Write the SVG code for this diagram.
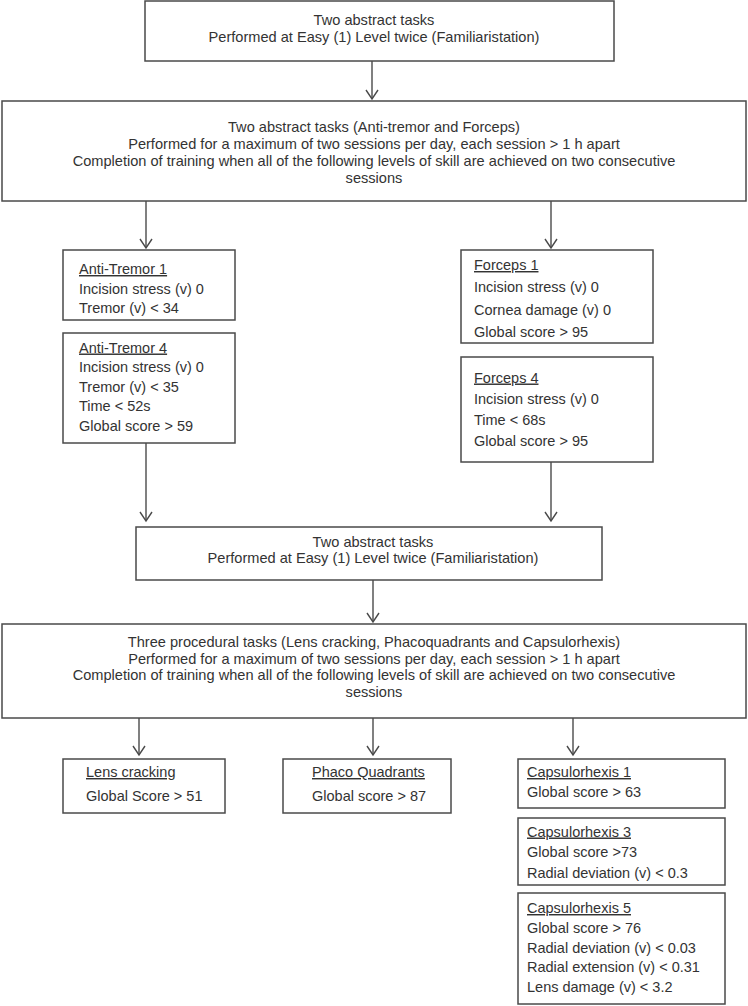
<svg xmlns="http://www.w3.org/2000/svg" width="748" height="1006" viewBox="0 0 748 1006">
<style>
.box{fill:#fff;stroke:#4a4a4a;stroke-width:1.5}
.t{font-family:"Liberation Sans",Arial,sans-serif;font-size:14.5px;fill:#333}
.c{text-anchor:middle;font-size:14.6px}
.u{text-decoration:underline}
.ln{fill:none;stroke:#4a4a4a;stroke-width:1.4}
</style>
<defs>
<marker id="ah" markerUnits="userSpaceOnUse" viewBox="-11 -8 13 16" refX="0" refY="0" markerWidth="13" markerHeight="16" orient="auto" overflow="visible">
<path d="M-9,-6 L0,0 L-9,6" fill="none" stroke="#4a4a4a" stroke-width="1.4"/>
</marker>
</defs>
<rect width="748" height="1006" fill="#fff"/>
<g id="connectors">
<line class="ln" x1="372" y1="61" x2="372" y2="99" marker-end="url(#ah)"/>
<line class="ln" x1="146" y1="201" x2="146" y2="248" marker-end="url(#ah)"/>
<line class="ln" x1="551" y1="201" x2="551" y2="248" marker-end="url(#ah)"/>
<line class="ln" x1="146" y1="443" x2="146" y2="521" marker-end="url(#ah)"/>
<line class="ln" x1="551" y1="462" x2="551" y2="521" marker-end="url(#ah)"/>
<line class="ln" x1="373" y1="580" x2="373" y2="622" marker-end="url(#ah)"/>
<line class="ln" x1="139" y1="718" x2="139" y2="755" marker-end="url(#ah)"/>
<line class="ln" x1="373" y1="718" x2="373" y2="755" marker-end="url(#ah)"/>
<line class="ln" x1="573" y1="718" x2="573" y2="755" marker-end="url(#ah)"/>
</g>
<g id="n-familiar1">
<rect class="box" x="145" y="1" width="469" height="60"/>
<text class="t c" x="374" y="25">Two abstract tasks</text>
<text class="t c" x="374" y="42">Performed at Easy (1) Level twice (Familiaristation)</text>
</g>
<g id="n-abstract">
<rect class="box" x="2" y="101" width="744" height="100"/>
<text class="t c" x="374" y="132">Two abstract tasks (Anti-tremor and Forceps)</text>
<text class="t c" x="374" y="149">Performed for a maximum of two sessions per day, each session &gt; 1 h apart</text>
<text class="t c" x="374" y="166">Completion of training when all of the following levels of skill are achieved on two consecutive</text>
<text class="t c" x="374" y="183">sessions</text>
</g>
<g id="n-antitremor1">
<rect class="box" x="63" y="250" width="172" height="70"/>
<text class="t u" x="79" y="274">Anti-Tremor 1</text>
<text class="t" x="79" y="293.5">Incision stress (v) 0</text>
<text class="t" x="79" y="313">Tremor (v) &lt; 34</text>
</g>
<g id="n-antitremor4">
<rect class="box" x="63" y="333" width="172" height="110"/>
<text class="t u" x="79" y="352.5">Anti-Tremor 4</text>
<text class="t" x="79" y="372">Incision stress (v) 0</text>
<text class="t" x="79" y="391.5">Tremor (v) &lt; 35</text>
<text class="t" x="79" y="411">Time &lt; 52s</text>
<text class="t" x="79" y="430.5">Global score &gt; 59</text>
</g>
<g id="n-forceps1">
<rect class="box" x="461" y="250" width="192" height="93"/>
<text class="t u" x="474" y="270">Forceps 1</text>
<text class="t" x="474" y="292">Incision stress (v) 0</text>
<text class="t" x="474" y="314.5">Cornea damage (v) 0</text>
<text class="t" x="474" y="337">Global score &gt; 95</text>
</g>
<g id="n-forceps4">
<rect class="box" x="461" y="357" width="192" height="105"/>
<text class="t u" x="474" y="382.5">Forceps 4</text>
<text class="t" x="474" y="403.5">Incision stress (v) 0</text>
<text class="t" x="474" y="424.5">Time &lt; 68s</text>
<text class="t" x="474" y="446">Global score &gt; 95</text>
</g>
<g id="n-familiar2">
<rect class="box" x="136" y="527" width="466" height="53"/>
<text class="t c" x="373" y="547">Two abstract tasks</text>
<text class="t c" x="373" y="563">Performed at Easy (1) Level twice (Familiaristation)</text>
</g>
<g id="n-procedural">
<rect class="box" x="2" y="624" width="744" height="94"/>
<text class="t c" x="374" y="647">Three procedural tasks (Lens cracking, Phacoquadrants and Capsulorhexis)</text>
<text class="t c" x="374" y="663.5">Performed for a maximum of two sessions per day, each session &gt; 1 h apart</text>
<text class="t c" x="374" y="680">Completion of training when all of the following levels of skill are achieved on two consecutive</text>
<text class="t c" x="374" y="697">sessions</text>
</g>
<g id="n-lens">
<rect class="box" x="63" y="759" width="162" height="54"/>
<text class="t u" x="86" y="777">Lens cracking</text>
<text class="t" x="86" y="801">Global Score &gt; 51</text>
</g>
<g id="n-phaco">
<rect class="box" x="283" y="759" width="168" height="54"/>
<text class="t u" x="312" y="777">Phaco Quadrants</text>
<text class="t" x="312" y="801">Global score &gt; 87</text>
</g>
<g id="n-caps1">
<rect class="box" x="518" y="759" width="207" height="49"/>
<text class="t u" x="527" y="777">Capsulorhexis 1</text>
<text class="t" x="527" y="796.5">Global score &gt; 63</text>
</g>
<g id="n-caps3">
<rect class="box" x="518" y="818" width="207" height="67"/>
<text class="t u" x="527" y="836.5">Capsulorhexis 3</text>
<text class="t" x="527" y="857">Global score &gt;73</text>
<text class="t" x="527" y="877.5">Radial deviation (v) &lt; 0.3</text>
</g>
<g id="n-caps5">
<rect class="box" x="518" y="893" width="207" height="111"/>
<text class="t u" x="527" y="913">Capsulorhexis 5</text>
<text class="t" x="527" y="933">Global score &gt; 76</text>
<text class="t" x="527" y="952.5">Radial deviation (v) &lt; 0.03</text>
<text class="t" x="527" y="972">Radial extension (v) &lt; 0.31</text>
<text class="t" x="527" y="991.5">Lens damage (v) &lt; 3.2</text>
</g>
</svg>
